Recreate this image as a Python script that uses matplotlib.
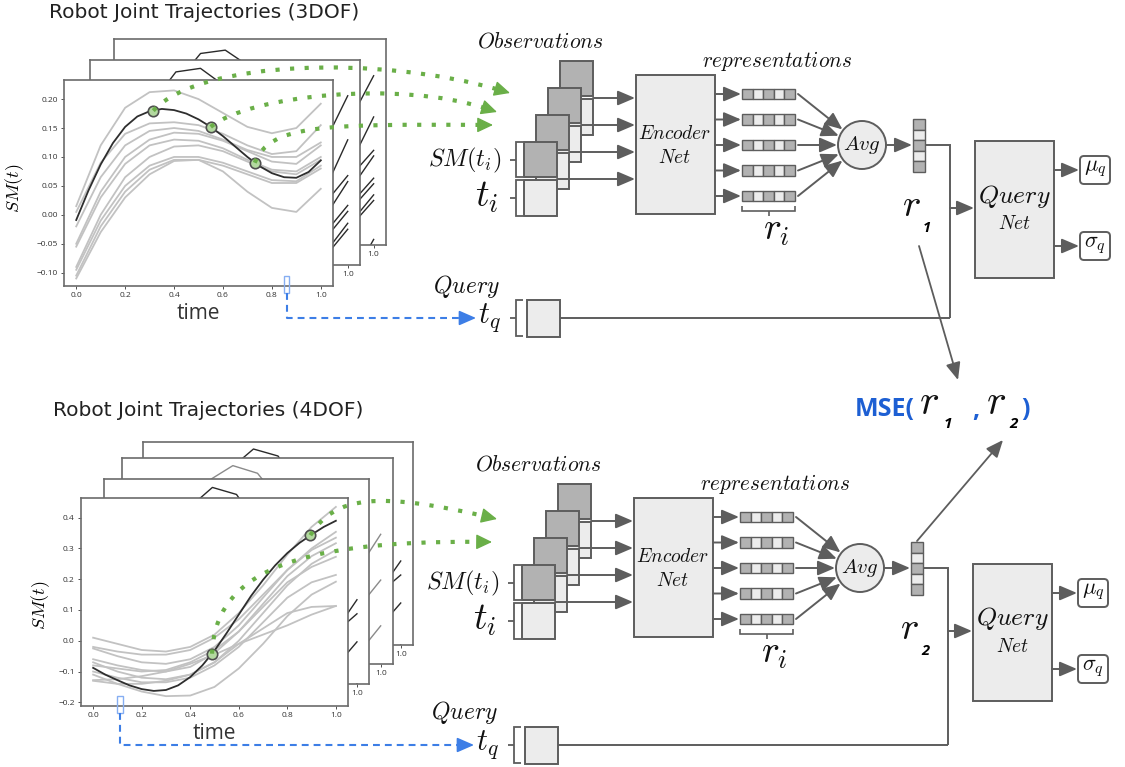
import matplotlib
matplotlib.use("Agg")
import numpy as np
import matplotlib.pyplot as plt
from matplotlib.patches import Rectangle, Circle, FancyArrowPatch, FancyBboxPatch, PathPatch
from matplotlib.path import Path
from matplotlib.transforms import blended_transform_factory

plt.rcParams['mathtext.fontset'] = 'cm'
plt.rcParams['font.family'] = ['Open Sans', 'DejaVu Sans']

W, H = 1125, 767

# ---------------------------------------------------------------- data
# coarse sampling for the demonstration bundle, finer for the highlighted one
t = [0.0, 0.1, 0.2, 0.3, 0.4, 0.5, 0.6, 0.7, 0.8, 0.9, 1.0]
t_fine = [0.0, 0.05, 0.1, 0.15, 0.2, 0.25, 0.3, 0.35, 0.4, 0.45, 0.5,
          0.55, 0.6, 0.65, 0.7, 0.75, 0.8, 0.85, 0.9, 0.95, 1.0]

# 3-DOF robot
dof3_main = [-0.009, 0.042, 0.087, 0.124, 0.152, 0.170, 0.179, 0.183, 0.181, 0.175, 0.165,
             0.152, 0.136, 0.118, 0.100, 0.084, 0.072, 0.065, 0.064, 0.074, 0.094]
dof3_others = [
    [0.015, 0.120, 0.185, 0.212, 0.215, 0.200, 0.176, 0.152, 0.141, 0.150, 0.192],
    [0.005, 0.090, 0.140, 0.158, 0.160, 0.155, 0.140, 0.120, 0.105, 0.110, 0.155],
    [-0.020, 0.065, 0.120, 0.145, 0.150, 0.145, 0.130, 0.112, 0.100, 0.100, 0.125],
    [-0.050, 0.040, 0.100, 0.130, 0.142, 0.140, 0.128, 0.110, 0.092, 0.088, 0.120],
    [-0.055, 0.030, 0.088, 0.120, 0.130, 0.128, 0.115, 0.095, 0.078, 0.075, 0.100],
    [-0.090, 0.000, 0.065, 0.100, 0.118, 0.120, 0.110, 0.092, 0.075, 0.070, 0.095],
    [-0.095, -0.010, 0.050, 0.085, 0.100, 0.100, 0.090, 0.075, 0.060, 0.058, 0.085],
    [-0.105, -0.020, 0.040, 0.078, 0.095, 0.095, 0.085, 0.070, 0.055, 0.055, 0.080],
    [-0.110, -0.030, 0.030, 0.070, 0.093, 0.095, 0.075, 0.040, 0.012, 0.005, 0.045],
]
dof3_obs_t = [0.315, 0.55, 0.73]
dof3_obs_y = [0.180, 0.152, 0.090]
dof3_query_t = 0.86

# 4-DOF robot
dof4_main = [-0.088, -0.110, -0.128, -0.145, -0.157, -0.163, -0.160, -0.145, -0.118, -0.080, -0.032,
             0.025, 0.085, 0.145, 0.198, 0.245, 0.285, 0.318, 0.345, 0.370, 0.390]
dof4_others = [
    [0.010, -0.010, -0.030, -0.035, -0.020, 0.020, 0.090, 0.180, 0.280, 0.370, 0.435],
    [-0.020, -0.035, -0.045, -0.045, -0.030, 0.010, 0.070, 0.150, 0.230, 0.300, 0.354],
    [-0.025, -0.050, -0.070, -0.075, -0.060, -0.020, 0.050, 0.140, 0.230, 0.295, 0.335],
    [-0.060, -0.080, -0.095, -0.100, -0.085, -0.040, 0.030, 0.120, 0.210, 0.275, 0.317],
    [-0.070, -0.100, -0.120, -0.125, -0.110, -0.070, 0.000, 0.090, 0.180, 0.250, 0.295],
    [-0.080, -0.090, -0.100, -0.095, -0.070, -0.030, 0.030, 0.110, 0.190, 0.240, 0.273],
    [-0.100, -0.120, -0.135, -0.135, -0.120, -0.080, -0.020, 0.060, 0.140, 0.190, 0.214],
    [-0.110, -0.140, -0.165, -0.180, -0.178, -0.150, -0.090, -0.010, 0.080, 0.150, 0.192],
    [-0.130, -0.140, -0.140, -0.130, -0.110, -0.070, -0.010, 0.040, 0.090, 0.110, 0.113],
    [-0.128, -0.125, -0.115, -0.100, -0.075, -0.045, -0.010, 0.020, 0.050, 0.085, 0.113],
]
dof4_obs_t = [0.49, 0.895]
dof4_obs_y = [-0.042, 0.343]
dof4_query_t = 0.11

# remaining joints of the 4-DOF arm (frames stacked behind)
dof4_back = [
    [-0.100, 0.050, 0.170, 0.250, 0.280, 0.270, 0.220, 0.150, 0.090, 0.070, 0.100],
    [-0.050, 0.060, 0.140, 0.190, 0.210, 0.200, 0.160, 0.100, 0.060, 0.070, 0.120],
    [-0.150, -0.020, 0.090, 0.160, 0.190, 0.180, 0.140, 0.080, 0.030, 0.020, 0.060],
    [-0.180, -0.080, 0.010, 0.070, 0.100, 0.100, 0.070, 0.020, -0.030, -0.040, 0.000],
]

# ---------------------------------------------------------------- styles
GRAY = '#5d5d5d'
LIGHT = '#ececec'
DARK = '#b2b2b2'
GREEN = '#6aaf48'
BLUE = '#3d7ee6'
MSE_BLUE = '#1d5fd3'

fig = plt.figure(figsize=(W / 100, H / 100), dpi=100)


def px_axes(x0, y0, x1, y1, z):
    return fig.add_axes([x0 / W, 1 - y1 / H, (x1 - x0) / W, (y1 - y0) / H], zorder=z)


def style_frame(a):
    for s in a.spines.values():
        s.set_color('#6b6b6b')
        s.set_linewidth(1.2)
    a.tick_params(labelsize=6, length=2.5, width=0.6, colors='#333333', pad=2)


def back_frame(box, curves, ylim, z, color='#2a2a2a'):
    a = px_axes(*box, z)
    for c in curves:
        a.plot(t, c, color=color, lw=1.0)
    a.set_xlim(-0.05, 1.05)
    a.set_ylim(*ylim)
    a.set_xticks([1.0])
    a.set_xticklabels(['1.0'])
    a.set_yticks([])
    style_frame(a)
    return a


def traj_axes(box, main, others, obs_t, obs_y, ylim, yticks, yfmt, query_t, z):
    a = px_axes(*box, z)
    for c in others:
        a.plot(t, c, color='#c2c2c2', lw=1.3)
    a.plot(t_fine, main, color='#2e2e2e', lw=1.3)
    a.plot(obs_t, obs_y, 'o', ms=7.5, mfc='#b3d9a0', mec='#4f4f4f', mew=1.2, zorder=4)
    a.set_xlim(-0.05, 1.05)
    a.set_ylim(*ylim)
    a.set_xticks([0.0, 0.2, 0.4, 0.6, 0.8, 1.0])
    a.set_yticks(yticks)
    a.set_yticklabels([(yfmt % v).replace('-', '\u2212') for v in yticks])
    style_frame(a)
    a.set_xlabel('time', fontsize=15, color='#333333')
    a.set_ylabel(r'$SM(t)$', fontsize=13)
    tr = blended_transform_factory(a.transData, a.transAxes)
    a.add_patch(Rectangle((query_t - 0.012, -0.034), 0.024, 0.083, transform=tr, fill=False,
                          ec='#86aef2', lw=1.0, clip_on=False, zorder=6))
    return a


# ---------------------------------------------------------------- trajectory plots
back_frame((114, 39, 386, 245), dof3_others, (0.04, 0.225), 1)
back_frame((90, 60, 360, 265), dof3_others, (0.05, 0.222), 2)
ax3 = traj_axes((64, 80, 333, 286), dof3_main, dof3_others, dof3_obs_t, dof3_obs_y,
                (-0.123, 0.233), [-0.10, -0.05, 0.00, 0.05, 0.10, 0.15, 0.20], '%.2f',
                dof3_query_t, 5)
ax3.xaxis.set_label_coords(0.5, -0.083)
ax3.yaxis.set_label_coords(-0.14, 0.476)

back_frame((143, 442, 413, 645), dof4_back, (0.0, 0.29), 1)
back_frame((122, 458, 393, 664), dof4_back[1:], (-0.05, 0.22), 2, color='#8a8a8a')
back_frame((104, 479, 369, 684), dof4_back, (0.0, 0.292), 3)
ax4 = traj_axes((81, 498, 348, 706), dof4_main, dof4_others, dof4_obs_t, dof4_obs_y,
                (-0.212, 0.464), [-0.2, -0.1, 0.0, 0.1, 0.2, 0.3, 0.4], '%.1f',
                dof4_query_t, 5)
ax4.xaxis.set_label_coords(0.5, -0.082)
ax4.yaxis.set_label_coords(-0.11, 0.486)

# ---------------------------------------------------------------- diagram layer
ov = fig.add_axes([0, 0, 1, 1], zorder=20)
ov.set_xlim(0, W)
ov.set_ylim(H, 0)
ov.axis('off')


def to_px(a, x, y):
    px, py = a.transData.transform((x, y))
    return px, H - py


def rect(x0, y0, w, h, fc, lw=1.4, z=3):
    ov.add_patch(Rectangle((x0, y0), w, h, fc=fc, ec=GRAY, lw=lw, zorder=z))


def arrow(p0, p1, color=GRAY, lw=1.4, z=4, hl=0.75, hw=0.32, ms=14):
    ov.add_patch(FancyArrowPatch(p0, p1, arrowstyle=f'-|>,head_length={hl},head_width={hw}',
                                 mutation_scale=ms, color=color, lw=lw,
                                 shrinkA=0, shrinkB=0, zorder=z))


def poly(xs, ys, lw=1.4, z=3, color=GRAY, **kw):
    ov.plot(xs, ys, color=color, lw=lw, zorder=z, solid_capstyle='butt',
            solid_joinstyle='miter', **kw)


def bracket(x, y0, y1):
    poly([x + 7, x, x, x + 7], [y0, y0, y1, y1], lw=1.3)
    poly([x - 6, x], [(y0 + y1) / 2] * 2, lw=1.3)


def label(x, y, s, size, ha='center', color='#111111', **kw):
    ov.text(x, y, s, fontsize=size, ha=ha, va='center', color=color, zorder=6, **kw)


def dotted_arrow(p0, c1, c2, tip):
    u = np.array(tip) - np.array(c2)
    u = u / np.hypot(*u)
    base = np.array(tip) - 11 * u
    path = Path([p0, c1, c2, tuple(base)], [Path.MOVETO, Path.CURVE4, Path.CURVE4, Path.CURVE4])
    ov.add_patch(PathPatch(path, fill=False, ec=GREEN, lw=3, linestyle=(0, (1, 2.5)),
                           capstyle='butt', zorder=8))
    arrow(tuple(base - 2 * u), tip, color=GREEN, lw=1.0, z=8, hl=0.75, hw=0.36, ms=13)


def query_link(a, q_t, qy, tip_x):
    x, _ = to_px(a, q_t, 0)
    yb = H - a.transAxes.transform((0, -0.034))[1]
    poly([x, x, tip_x - 12], [yb, qy, qy], lw=1.5, color=BLUE, z=7,
         linestyle=(0, (3.3, 2.4)))
    arrow((tip_x - 14, qy), (tip_x, qy), color=BLUE, lw=1.2, z=7, hl=0.8, hw=0.35, ms=13)


def sub_label(x, y, s, size=10.5):
    ov.text(x, y, s, fontsize=size, fontweight='bold', style='italic',
            ha='center', va='center', zorder=6)


rows = [94, 119.5, 145, 170.5, 196]


def section(dx, dy, qy, vx, sub):
    X = lambda x: x + dx
    Y = lambda y: y + dy
    label(X(540), Y(42), r'$Observations$', 15.5)
    for k in (3, 2, 1, 0):
        x0, yd = X(524 + 12 * k), Y(142 - 27 * k)
        rect(x0, yd, 33, 35, DARK)
        rect(x0, yd + 38, 33, 36, LIGHT)
    for k in (3, 2, 1, 0):
        x0, yd = X(524 + 12 * k), Y(142 - 27 * k)
        arrow((x0 + 33, yd + 37), (X(635), yd + 37))
    bracket(X(516), Y(142), Y(177))
    bracket(X(516), Y(180), Y(216))
    label(X(501), Y(160), r'$SM(t_i)$', 17.5, ha='right')
    label(X(498), Y(197), r'$t_i$', 27, ha='right')

    rect(X(636), Y(75), 79, 139, LIGHT)
    label(X(675), Y(134), r'$Encoder$', 14)
    label(X(675), Y(158), r'$Net$', 14)
    label(X(777), Y(61), r'$representations$', 15.3)

    cx, cy, R = X(862), Y(145), 24
    for yc in rows:
        y = Y(yc)
        arrow((X(715), y), (X(741), y))
        for j in range(5):
            rect(X(742) + j * 10.6, y - 5.25, 10.6, 10.5, DARK if j % 2 == 0 else LIGHT, lw=1.0)
        sx, sy = X(798), y
        vx_, vy_ = cx - sx, cy - sy
        L = np.hypot(vx_, vy_)
        arrow((sx, sy), (cx - (R + 1) * vx_ / L, cy - (R + 1) * vy_ / L))
    poly([X(742), X(742), X(795), X(795)], [Y(206), Y(211), Y(211), Y(206)], lw=1.2)
    poly([X(768.5)] * 2, [Y(211), Y(216)], lw=1.2)
    label(X(776), Y(230), r'$r_i$', 27)

    ov.add_patch(Circle((cx, cy), R, fc=LIGHT, ec=GRAY, lw=1.4, zorder=3))
    label(cx, cy, r'$Avg$', 15)
    arrow((cx + R, cy), (X(912), cy))
    for j in range(5):
        rect(X(913), Y(119) + j * 10.6, 12, 10.6, DARK if j % 2 == 0 else LIGHT, lw=1.0)
    poly([X(925), vx, vx], [cy, cy, qy])
    arrow((vx, Y(208)), (X(974), Y(208)))

    rect(X(975), Y(141), 79, 137, LIGHT)
    label(X(1015), Y(196), r'$Query$', 18.5)
    label(X(1015), Y(224), r'$Net$', 14)
    for yb, s in ((156, r'$\mu_q$'), (232, r'$\sigma_q$')):
        arrow((X(1054), Y(yb + 14)), (X(1079), Y(yb + 14)))
        ov.add_patch(FancyBboxPatch((X(1080), Y(yb)), 30, 28,
                                    boxstyle='round,pad=0,rounding_size=4',
                                    fc='white', ec=GRAY, lw=1.4, zorder=3))
        label(X(1095), Y(yb + 13), s, 16)

    label(X(467), qy - 32, r'$Query$', 17)
    label(X(489), qy, r'$t_q$', 22)
    bracket(X(516), qy - 18, qy + 18)
    rect(X(527), qy - 18, 33, 37, LIGHT)
    poly([X(560), vx], [qy, qy])

    label(X(911), Y(206), r'$r$', 28)
    sub_label(X(927), Y(228), sub)


# titles
ov.text(49, 12, 'Robot Joint Trajectories (3DOF)', fontsize=14.5, color='#222222',
        ha='left', va='center', family='DejaVu Sans')
ov.text(53, 410, 'Robot Joint Trajectories (4DOF)', fontsize=14.5, color='#222222',
        ha='left', va='center', family='DejaVu Sans')

section(0, 0, 318, 950, '1')
section(-2, 423, 745, 948, '2')

# observation paths from the demonstrations into the encoder
p = [to_px(ax3, a, b) for a, b in zip(dof3_obs_t, dof3_obs_y)]
dotted_arrow(p[0], (200, 60), (380, 55), (510, 93))
dotted_arrow(p[1], (250, 95), (400, 80), (497, 112))
dotted_arrow(p[2], (270, 125), (320, 124), (493, 125))
p = [to_px(ax4, a, b) for a, b in zip(dof4_obs_t, dof4_obs_y)]
dotted_arrow(p[0], (215, 575), (290, 540), (492, 542))
dotted_arrow(p[1], (335, 495), (380, 492), (497, 519))

# query time links
query_link(ax3, dof3_query_t, 318, 476)
query_link(ax4, dof4_query_t, 745, 474)

# representation distance
arrow((919, 246), (958, 380), lw=1.3)
arrow((917, 541), (1003, 440), lw=1.3)
ov.text(855, 409, 'MSE(', fontsize=18, fontweight='bold', color=MSE_BLUE, ha='left', va='center')
label(929, 403, r'$r$', 30)
sub_label(948, 424, '1', 11)
ov.text(976, 411, ',', fontsize=18, fontweight='bold', color=MSE_BLUE, ha='center', va='center')
label(996, 403, r'$r$', 30)
sub_label(1014, 424, '2', 11)
ov.text(1021, 409, ')', fontsize=18, fontweight='bold', color=MSE_BLUE, ha='left', va='center')

fig.savefig('out.png', dpi=100)
